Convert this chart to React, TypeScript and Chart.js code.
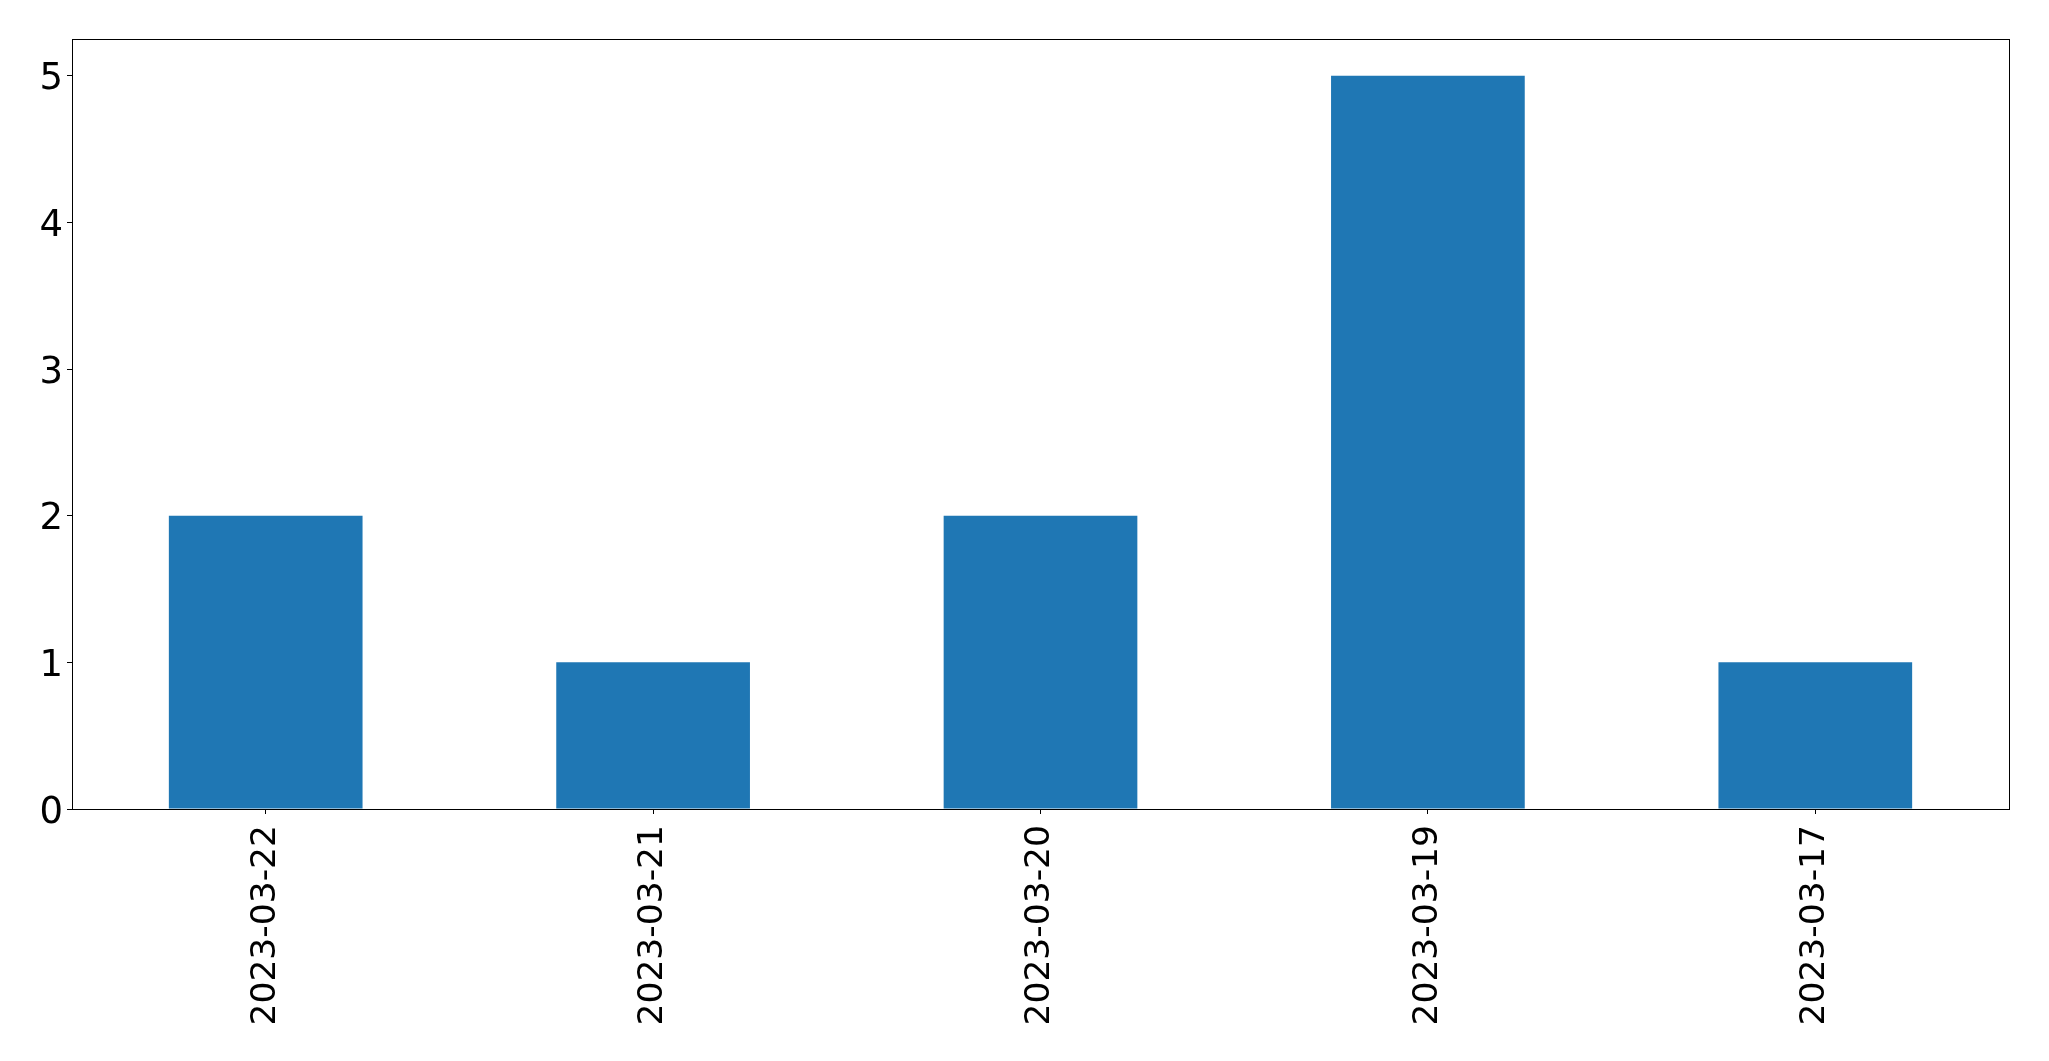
import React, { useEffect, useRef } from "react";
import { Chart, registerables } from "chart.js";

Chart.register(...registerables);

const categories = ["2023-03-22", "2023-03-21", "2023-03-20", "2023-03-19", "2023-03-17"];
const values = [2, 1, 2, 5, 1];
const yMin = 0;
const yMax = 5.25;
const yStep = 1;

const frame = {
  id: "frame",
  afterDraw(chart: any) {
    const { ctx, chartArea } = chart;
    ctx.save();
    ctx.strokeStyle = "#000";
    ctx.lineWidth = 1;
    ctx.strokeRect(
      Math.round(chartArea.left) + 0.5,
      Math.round(chartArea.top) + 0.5,
      Math.round(chartArea.right - chartArea.left),
      Math.round(chartArea.bottom - chartArea.top)
    );
    ctx.restore();
  },
};

export default function App() {
  const ref = useRef<HTMLCanvasElement | null>(null);
  useEffect(() => {
    document.body.style.margin = "0";
    const xFont = { family: "'DejaVu Sans', sans-serif", size: 34.5 };
    const yFont = { family: "'DejaVu Sans', sans-serif", size: 37 };
    const chart = new Chart(ref.current as HTMLCanvasElement, {
      type: "bar",
      data: {
        labels: categories,
        datasets: [
          {
            data: values,
            backgroundColor: "#1f77b4",
            barPercentage: 0.5,
            categoryPercentage: 1.0,
          },
        ],
      },
      options: {
        animation: false,
        responsive: false,
        devicePixelRatio: 1,
        layout: { padding: { top: 39, right: 40, left: 0, bottom: 0 } },
        plugins: { legend: { display: false }, tooltip: { enabled: false } },
        scales: {
          x: {
            offset: true,
            grid: { display: true, drawOnChartArea: false, drawTicks: true, tickLength: 5, color: "#000", offset: false },
            border: { display: true, color: "#000", width: 1 },
            ticks: { color: "#000", font: xFont, minRotation: 90, maxRotation: 90, padding: 11, autoSkip: false },
            afterFit(scale: any) {
              scale.height = 252;
            },
          },
          y: {
            min: yMin,
            max: yMax,
            grid: { display: true, drawOnChartArea: false, drawTicks: true, tickLength: 5, color: "#000" },
            border: { display: true, color: "#000", width: 1 },
            ticks: { color: "#000", font: yFont, stepSize: yStep, includeBounds: false, padding: 4, labelOffset: 4 },
            afterFit(scale: any) {
              scale.width = 72;
            },
          },
        },
      },
      plugins: [frame],
    });
    return () => chart.destroy();
  }, []);
  return <canvas ref={ref} width={2049} height={1061} style={{ display: "block" }} />;
}
